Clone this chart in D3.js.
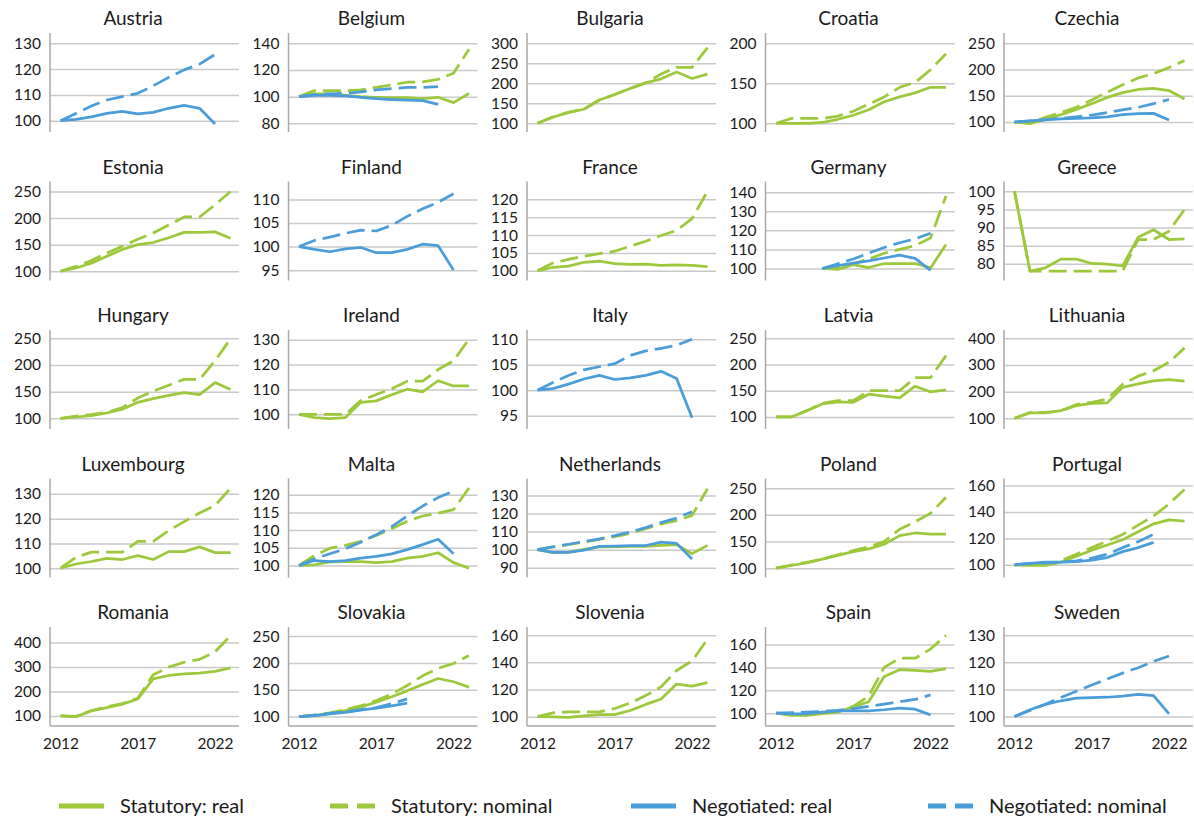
<!DOCTYPE html>
<html>
<head>
<meta charset="utf-8">
<script src="https://cdn.jsdelivr.net/npm/d3@7"></script>
<style>
    body { margin: 0; background: #ffffff; }
    svg { display: block; font-family: Lato, "Open Sans", sans-serif; }
</style>
</head>
<body>
<div id="chart"></div>
<script>

var years = [2012, 2013, 2014, 2015, 2016, 2017, 2018, 2019, 2020, 2021, 2022, 2023];
var xTickYears = [2012, 2017, 2022];

var countries = ["Austria", "Belgium", "Bulgaria", "Croatia", "Czechia",
    "Estonia", "Finland", "France", "Germany", "Greece",
    "Hungary", "Ireland", "Italy", "Latvia", "Lithuania",
    "Luxembourg", "Malta", "Netherlands", "Poland", "Portugal",
    "Romania", "Slovakia", "Slovenia", "Spain", "Sweden"];

// y ticks and axis range of each panel, same order as countries
var yTicks = [
    [100, 110, 120, 130], [80, 100, 120, 140], [100, 150, 200, 250, 300], [100, 150, 200], [100, 150, 200, 250],
    [100, 150, 200, 250], [95, 100, 105, 110], [100, 105, 110, 115, 120], [100, 110, 120, 130, 140], [80, 85, 90, 95, 100],
    [100, 150, 200, 250], [100, 110, 120, 130], [95, 100, 105, 110], [100, 150, 200, 250], [100, 200, 300, 400],
    [100, 110, 120, 130], [100, 105, 110, 115, 120], [90, 100, 110, 120, 130], [100, 150, 200, 250], [100, 120, 140, 160],
    [100, 200, 300, 400], [100, 150, 200, 250], [100, 120, 140, 160], [100, 120, 140, 160], [100, 110, 120, 130]
];
var yRanges = [
    [95.6, 134], [73.5, 147.7], [78, 325.8], [89.1, 212.9], [81, 269.6],
    [82.5, 268.8], [92.8, 113.8], [97.3, 125], [93.7, 145.6], [75.4, 102.7],
    [80, 265.6], [94.1, 133.9], [92.4, 111.8], [77, 265.8], [60, 431],
    [96.25, 136.2], [96.6, 124.6], [84.6, 139.4], [82.5, 268.2], [90.4, 165.3],
    [58.7, 463], [82.5, 267], [93.1, 166], [88.8, 175.3], [96.5, 133]
];

var statutoryReal = {
    Belgium: [100, 102, 102, 101, 100, 99.5, 99.2, 99.3, 98.5, 99.5, 95.5, 102.5],
    Bulgaria: [100, 115, 127, 135, 158, 172, 187, 201, 211, 228, 212, 223],
    Croatia: [100, 100, 100, 101, 105, 110, 117, 127, 133, 138, 145, 145],
    Czechia: [100, 97, 105, 114, 124, 135, 147, 156, 162, 164, 160, 144],
    Estonia: [100, 106, 115, 128, 141, 150, 154, 163, 173, 173, 174, 162],
    France: [100, 101, 101.3, 102.4, 102.7, 102, 101.8, 101.9, 101.5, 101.7, 101.5, 101.2],
    Germany: [null, null, null, 100, 99.5, 102, 100.5, 102.6, 102.6, 102.6, 100.3, 112.6],
    Greece: [100, 78, 78.9, 81.3, 81.3, 80.1, 79.9, 79.4, 87.3, 89.4, 86.7, 86.9],
    Hungary: [100, 102.5, 105, 110, 117, 130, 137, 143, 148, 144.5, 167, 154],
    Ireland: [100, 98.7, 98.3, 98.7, 104.8, 105.4, 107.9, 110.1, 109, 113.5, 111.4, 111.4],
    Latvia: [100, 100, 112, 124.8, 128.6, 128, 143.3, 139.5, 136.3, 158.6, 147.8, 151.6],
    Lithuania: [100, 120, 120, 128.8, 147.5, 156, 158, 216, 229, 240, 245, 239],
    Luxembourg: [100, 101.7, 102.7, 104, 103.5, 105.1, 103.5, 106.7, 106.7, 108.6, 106.3, 106.3],
    Malta: [100, 100.2, 101, 101.1, 101.1, 100.8, 101.1, 102.1, 102.6, 103.6, 100.8, 99.2],
    Netherlands: [100, 98.3, 98.7, 100.2, 101.5, 101.5, 101.8, 101.8, 102.4, 102.8, 97.8, 102.4],
    Poland: [100, 105, 110, 117, 124, 131, 136, 145, 161, 166, 164, 164],
    Portugal: [100, 99.5, 99.5, 102, 106.5, 111, 115, 119, 125, 131, 134, 133],
    Romania: [100, 97, 120, 134, 148, 169, 251, 265, 272, 275, 282, 296],
    Slovakia: [100, 102, 106, 111, 118, 127, 137, 148, 160, 171, 165, 155],
    Slovenia: [100, 99.8, 99.5, 100.5, 101.5, 101.5, 104.5, 109, 113, 124, 122.5, 125],
    Spain: [100, 98, 98, 99.5, 101, 105.5, 110, 132, 138, 137.5, 136.5, 139]
};

var statutoryNominal = {
    Belgium: [100, 104.5, 104.5, 104.5, 105, 107, 108.8, 110.8, 111, 113, 117.5, 135.5],
    Bulgaria: [100, 116, 127, 135, 158, 172, 187, 201, 223, 240, 240, 289],
    Croatia: [100, 106, 106, 106, 109, 115, 124, 133, 145, 151, 167, 187],
    Czechia: [100, 98, 109, 118, 128, 142, 157, 171, 184, 192, 204, 217],
    Estonia: [100, 109, 120, 134, 147, 160, 172, 187, 202, 202, 225, 250],
    France: [100, 102.2, 103.2, 104.1, 104.8, 105.5, 106.9, 108.3, 109.9, 111.3, 114.6, 122.3],
    Germany: [null, null, null, 100, 100, 102.5, 105, 108, 110, 112, 116, 138],
    Greece: [100, 78, 78, 78, 78, 78, 78, 78, 86.7, 86.7, 89, 95],
    Hungary: [100, 104, 107, 111, 120, 138, 151, 162, 173, 173, 208, 249],
    Ireland: [100, 100, 100, 100, 105.5, 108, 110.3, 113.3, 113.3, 118, 121.5, 130.3],
    Latvia: [100, 100, 112, 126, 131, 131, 150, 150, 150, 175, 175, 217],
    Lithuania: [100, 122, 122, 128, 152, 160, 172, 228, 258, 278, 310, 364],
    Luxembourg: [100, 104.4, 106.5, 106.5, 106.5, 110.8, 110.8, 115.2, 118.8, 122.3, 125.3, 132.3],
    Malta: [100, 102.8, 104.9, 105.7, 106.8, 108.5, 110.4, 112.5, 114, 114.8, 115.8, 121.9],
    Netherlands: [100, 101.5, 102.8, 104.2, 105.7, 107.2, 109, 111.6, 114.2, 116, 119, 133.7],
    Poland: [100, 106, 111, 117, 125, 133, 140, 150, 173, 187, 203, 233],
    Portugal: [100, 100, 100, 103, 108, 113, 118, 123, 130, 137, 146, 157],
    Romania: [100, 98, 122, 137, 150, 172, 268, 299, 319, 331, 361, 428],
    Slovakia: [100, 103, 107, 113, 120, 130, 142, 158, 176, 190, 199, 214],
    Slovenia: [100, 102.8, 103.5, 103.5, 103.5, 106, 110, 115.5, 122, 134, 141, 157],
    Spain: [100, 98.5, 98.5, 100, 101, 106, 115, 140, 148, 148, 156, 168]
};

var negotiatedReal = {
    Austria: [100, 100.5, 101.5, 102.8, 103.6, 102.6, 103.2, 104.8, 105.9, 104.8, 98.7, null],
    Belgium: [100, 101, 101, 100.5, 99.5, 98.5, 97.8, 97.3, 97, 94.2, null, null],
    Czechia: [100, 102, 104.5, 106, 107, 108, 110, 114, 116, 116.5, 104, null],
    Finland: [100, 99.4, 98.9, 99.5, 99.8, 98.7, 98.7, 99.4, 100.5, 100.2, 95, null],
    Germany: [null, null, null, 100, 101.5, 102.8, 104, 105.5, 107, 105.3, 99, null],
    Italy: [100, 100.3, 101.2, 102.2, 102.9, 102.1, 102.4, 102.9, 103.7, 102.3, 94.6, null],
    Malta: [100, 101.4, 101.1, 101.4, 102.1, 102.6, 103.3, 104.5, 105.9, 107.4, 103.3, null],
    Netherlands: [100, 98.5, 98.5, 99.8, 101.8, 102, 102.3, 102.3, 104.2, 103.5, 94.8, null],
    Portugal: [100, 101, 102, 102, 102.5, 103.5, 105.5, 110, 113, 117, null, null],
    Slovakia: [100, 102, 105, 108, 112, 116, 120, 125, null, null, null, null],
    Spain: [100, 99.5, 99.5, 101, 102, 102, 102, 103, 104.5, 103.5, 98.5, null],
    Sweden: [100, 102.5, 104.5, 105.8, 106.8, 107, 107.1, 107.5, 108.2, 107.7, 101, null]
};

var negotiatedNominal = {
    Austria: [100, 102.8, 105.7, 108, 109.3, 110.6, 113.5, 116.8, 119.7, 121.9, 125.7, null],
    Belgium: [100, 101.5, 102, 102.5, 103.5, 105, 106, 107, 107, 107.5, null, null],
    Czechia: [100, 102, 104, 107, 110, 113, 118, 123, 128, 135, 143, null],
    Finland: [100, 101.3, 102, 102.8, 103.5, 103.3, 104.5, 106.4, 108, 109.4, 111.2, null],
    Germany: [null, null, null, 100, 102.5, 105, 108, 111, 113.5, 115.5, 118.5, null],
    Italy: [100, 101.5, 102.9, 104, 104.6, 105.2, 106.8, 107.7, 108.2, 108.8, 110, null],
    Malta: [100, 101.9, 103.3, 104.7, 106.6, 108.7, 111, 114, 116.8, 119.2, 121, null],
    Netherlands: [100, 101.5, 103, 104.5, 106, 107.8, 109.8, 112.2, 115, 117.5, 121, null],
    Portugal: [100, 101, 101.5, 102, 103, 105, 108, 113, 117.5, 123, null, null],
    Slovakia: [100, 103, 106, 109, 113, 117, 124, 133, null, null, null, null],
    Spain: [100, 100.5, 101, 101.5, 102.5, 104, 106, 108, 110, 112, 116, null],
    Sweden: [100, 102.2, 104.5, 107, 109.3, 111.6, 113.8, 116, 118, 120.3, 122.3, null]
};

var seriesNames = ["Statutory: real", "Statutory: nominal", "Negotiated: real", "Negotiated: nominal"];
var seriesData = [statutoryReal, statutoryNominal, negotiatedReal, negotiatedNominal];

var green = "#9dc83b", blue = "#4a9dd9";
var seriesStyle = [
    {color: green, dash: null},
    {color: green, dash: "18,7"},
    {color: blue, dash: null},
    {color: blue, dash: "18,7"}
];

var width = 1194, height = 819;
var plotW = 189, plotH = 99;

var svg = d3.select("#chart").append("svg")
    .attr("width", width)
    .attr("height", height);

svg.append("rect").attr("width", width).attr("height", height).attr("fill", "#ffffff");

var x = d3.scaleLinear().domain([2012, 2023]).range([10.5, 180.5]);

countries.forEach(function(name, i) {
    var col = i % 5, row = Math.floor(i / 5);
    var g = svg.append("g")
        .attr("transform", "translate(" + (50 + 238.5 * col) + "," + (33 + 148.5 * row) + ")");

    var y = d3.scaleLinear().domain(yRanges[i]).range([plotH, 0]);

    // gridlines + tick labels
    var yAxis = g.append("g")
        .call(d3.axisLeft(y).tickValues(yTicks[i]).tickSize(-plotW).tickPadding(9).tickFormat(d3.format("d")));
    yAxis.select(".domain").remove();
    yAxis.selectAll(".tick line").attr("stroke", "#c9c9c9").attr("stroke-width", 1.5);
    yAxis.selectAll(".tick text")
        .attr("fill", "#1a1a1a")
        .style("font-size", "15.5px")
        .style("font-family", "Lato, 'Open Sans', sans-serif");

    g.append("line")
        .attr("x1", 0).attr("x2", 0)
        .attr("y1", 0).attr("y2", plotH)
        .attr("stroke", "#a8a8a8")
        .attr("stroke-width", 1.5);

    if (row == 4) {
        var xAxis = g.append("g")
            .attr("transform", "translate(0," + plotH + ")")
            .call(d3.axisBottom(x).tickValues(xTickYears).tickSize(0).tickPadding(12).tickFormat(d3.format("d")));
        xAxis.select(".domain").remove();
        xAxis.selectAll(".tick text")
            .attr("fill", "#1a1a1a")
            .style("font-size", "15.5px")
            .style("font-family", "Lato, 'Open Sans', sans-serif");
        g.append("line")
            .attr("x1", 0).attr("x2", plotW)
            .attr("y1", plotH).attr("y2", plotH)
            .attr("stroke", "#a8a8a8")
            .attr("stroke-width", 1.5);
    }

    g.append("text")
        .attr("x", 83)
        .attr("y", -8)
        .attr("text-anchor", "middle")
        .attr("fill", "#1a1a1a")
        .style("font-size", "19px")
        .text(name);

    var line = d3.line()
        .defined(function(d) { return d != null; })
        .x(function(d, j) { return x(years[j]); })
        .y(function(d) { return y(d); });

    seriesData.forEach(function(series, s) {
        if (!series[name]) return;
        g.append("path")
            .datum(series[name])
            .attr("d", line)
            .attr("fill", "none")
            .attr("stroke", seriesStyle[s].color)
            .attr("stroke-width", 2.75)
            .attr("stroke-linejoin", "round")
            .attr("stroke-dasharray", seriesStyle[s].dash);
    });
});

// legend
var legendX = [59, 330, 631, 928];
var legend = svg.selectAll(".legend")
    .data(seriesNames)
    .enter().append("g")
    .attr("class", "legend")
    .attr("transform", function(d, i) { return "translate(" + legendX[i] + ",806)"; });

legend.append("line")
    .attr("x1", 0).attr("x2", 45)
    .attr("stroke", function(d, i) { return seriesStyle[i].color; })
    .attr("stroke-width", 5)
    .attr("stroke-dasharray", function(d, i) { return seriesStyle[i].dash ? "18,9" : null; });

legend.append("text")
    .attr("x", 61)
    .attr("y", 7)
    .attr("fill", "#1a1a1a")
    .style("font-size", "20px")
    .text(function(d) { return d; });

</script>
</body>
</html>
